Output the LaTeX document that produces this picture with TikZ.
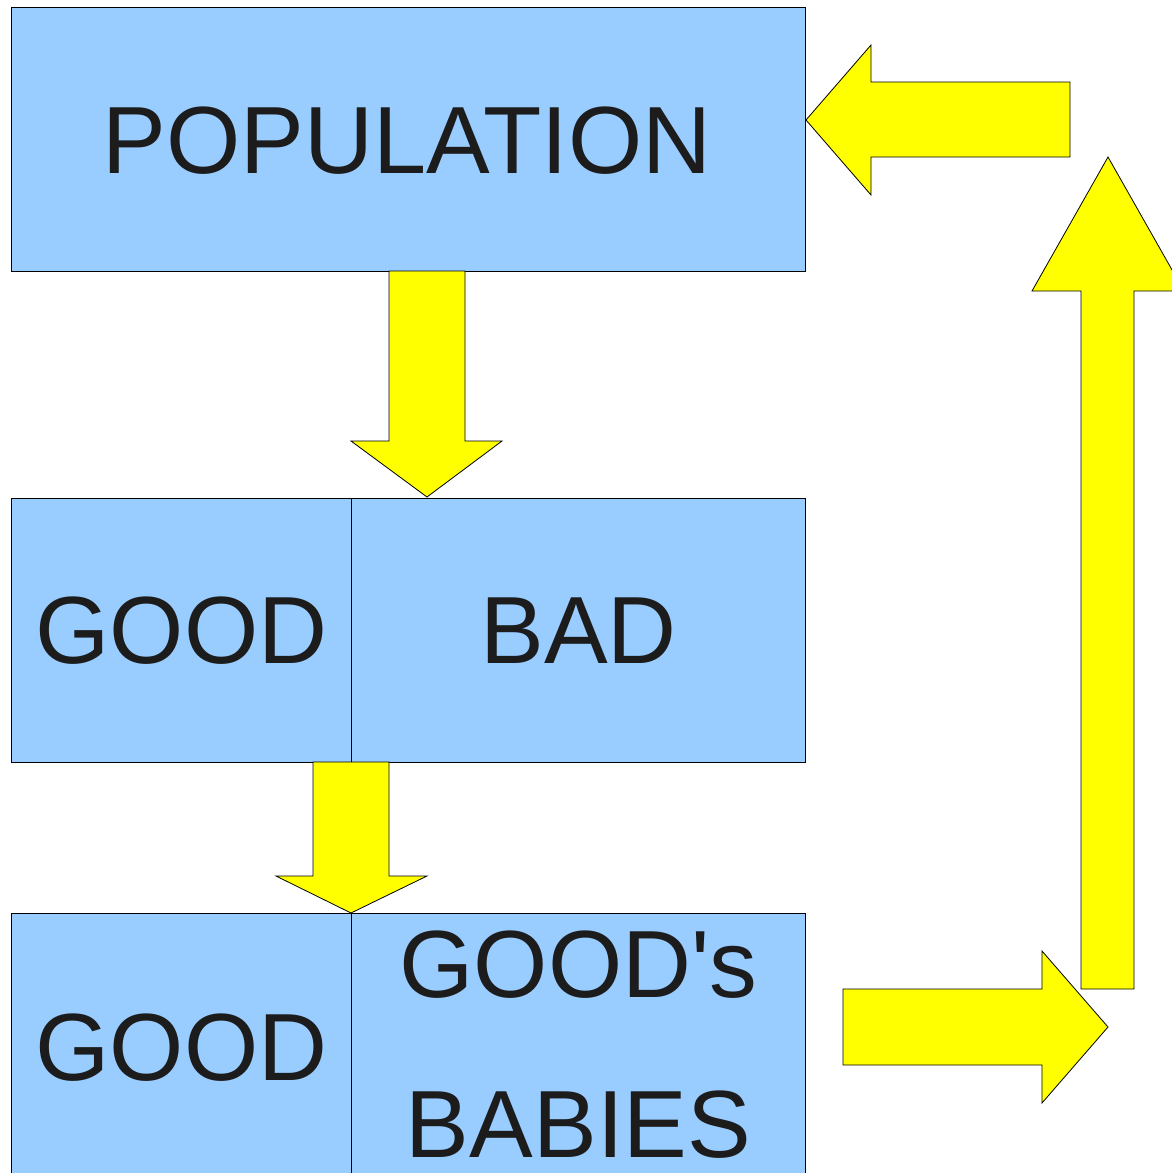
\documentclass[tikz,border=0pt]{standalone}
\usepackage{fontspec}
\setmainfont{Liberation Sans}
\begin{document}
\begin{tikzpicture}[x=1pt,y=-1pt,
  cell/.style={draw=black, line width=0.8pt, fill=boxblue},
  label/.style={anchor=base, text=textdark, inner sep=0pt, text depth=0pt,
    font=\fontsize{95.5}{100}\selectfont},
  blockarrow/.style={draw=black, line width=0.8pt, fill=arrowyellow, line join=miter}]
\definecolor{boxblue}{HTML}{99CCFF}
\definecolor{textdark}{HTML}{1C1C1C}
\definecolor{arrowyellow}{HTML}{FFFF00}
\useasboundingbox (0,0) rectangle (1172,1173);
\clip (0,0) rectangle (1172,1173);
\fill[white] (0,0) rectangle (1172,1173);

% top box
\draw[cell] (11,7) rectangle (805,271);
\node[label] (pop) at (407,173) {POPULATION};

% middle row
\draw[cell] (11,498) rectangle (351,762);
\draw[cell] (351,498) rectangle (805,762);
\node[label] (good1) at (181.5,663) {GOOD};
\node[label] (bad) at (578.5,663) {BAD};

% bottom row
\draw[cell] (11,913) rectangle (351,1190);
\draw[cell] (351,913) rectangle (805,1190);
\node[label] (good2) at (181.5,1080) {GOOD};
\node[label] (goods) at (578.5,997) {GOOD\textquotesingle s};
\node[label] (babies) at (578.5,1157) {BABIES};

% block arrows
\draw[blockarrow] (389,271) -- (465,271) -- (465,441) -- (502,441) -- (427,497)
  -- (351,441) -- (389,441) -- cycle;
\draw[blockarrow] (313,762) -- (389,762) -- (389,876) -- (427,876) -- (351,913)
  -- (276,876) -- (313,876) -- cycle;
\draw[blockarrow] (843,989) -- (1042,989) -- (1042,951) -- (1108,1027)
  -- (1042,1103) -- (1042,1065) -- (843,1065) -- cycle;
\draw[blockarrow] (1081,989) -- (1081,291) -- (1032,291) -- (1108,157)
  -- (1184,291) -- (1134,291) -- (1134,989) -- cycle;
\draw[blockarrow] (1070,82) -- (871,82) -- (871,45) -- (806,120)
  -- (871,195) -- (871,157) -- (1070,157) -- cycle;
\end{tikzpicture}
\end{document}
